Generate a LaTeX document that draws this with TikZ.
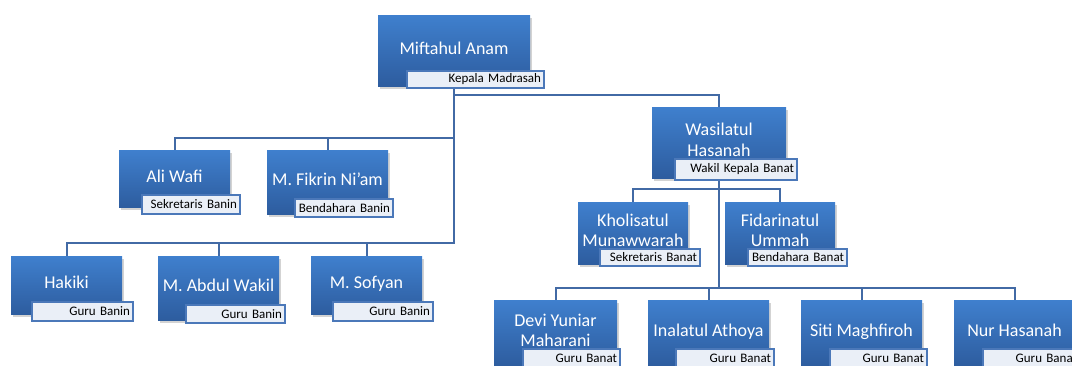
\documentclass[tikz,border=0pt]{standalone}
\usepackage{fontspec}
\setmainfont{Carlito}
\usepackage{xcolor}
\usepackage{tikz}
\usetikzlibrary{shadows,backgrounds}

\definecolor{boxtop}{RGB}{63,127,205}
\definecolor{boxbot}{RGB}{45,92,158}
\definecolor{rolefill}{RGB}{234,239,247}
\definecolor{roleline}{RGB}{75,120,185}
\definecolor{linkblue}{RGB}{66,106,165}

\begin{document}
\begin{tikzpicture}[
    x=1pt, y=-1pt,
    person/.style={rectangle, top color=boxtop, bottom color=boxbot, text=white, font=\fontsize{18}{20.5}\selectfont, align=center, inner xsep=2pt, text depth=7pt, drop shadow={opacity=0.35, shadow xshift=1.5pt, shadow yshift=-2.5pt}},
    role/.style={rectangle, fill=rolefill, draw=roleline, line width=1.5pt, font=\fontsize{13}{15}\selectfont, align=right, inner xsep=3pt, inner ysep=0pt, text width=#1},
    link/.style={draw=linkblue, line width=2pt}
]
\useasboundingbox (0,0) rectangle (1072,366);

% Kepala Madrasah
\node[person, minimum width=152, minimum height=71] (kepala) at (454,51.5) {Miftahul Anam};
\node[role=131pt, minimum height=17] (kepala_role) at (475.5,79.5) {Kepala Madrasah};

% Wakil Kepala Banat
\node[person, minimum width=134, minimum height=71] (wakil) at (719,143.5) {Wasilatul\\Hasanah};
\node[role=116pt, minimum height=21] (wakil_role) at (736,169.5) {Wakil Kepala Banat};

% Banin staff
\node[person, minimum width=111, minimum height=57] (sekr_banin) at (174.5,179.5) {Ali Wafi};
\node[role=92pt, minimum height=19] (sekr_banin_role) at (191,204.5) {Sekretaris Banin};
\node[person, minimum width=121, minimum height=64] (bend_banin) at (327.5,183) {M. Fikrin Ni'am};
\node[role=92pt, minimum height=18] (bend_banin_role) at (344,208) {Bendahara Banin};

% Banat staff
\node[person, minimum width=110, minimum height=62] (sekr_banat) at (633,234) {Kholisatul\\Munawwarah};
\node[role=94pt, minimum height=17] (sekr_banat_role) at (650,257.5) {Sekretaris Banat};
\node[person, minimum width=110, minimum height=62] (bend_banat) at (780,234) {Fidarinatul\\Ummah};
\node[role=93pt, minimum height=17] (bend_banat_role) at (797.5,257.5) {Bendahara Banat};

% Guru Banin
\node[person, minimum width=111, minimum height=58] (guru_banin_a) at (66.5,286) {Hakiki};
\node[role=95pt, minimum height=19] (guru_banin_a_role) at (82.5,311.5) {Guru Banin};
\node[person, minimum width=121, minimum height=64] (guru_banin_b) at (218.5,289) {M. Abdul Wakil};
\node[role=93pt, minimum height=18] (guru_banin_b_role) at (235.5,314) {Guru Banin};
\node[person, minimum width=111, minimum height=58] (guru_banin_c) at (366.5,286) {M. Sofyan};
\node[role=94pt, minimum height=19] (guru_banin_c_role) at (383,311.5) {Guru Banin};

% Guru Banat
\node[person, minimum width=123, minimum height=66] (guru_banat_a) at (555.5,334) {Devi Yuniar\\Maharani};
\node[role=91pt, minimum height=19] (guru_banat_a_role) at (571.5,358.5) {Guru Banat};
\node[person, minimum width=121, minimum height=66] (guru_banat_b) at (708.5,334) {Inalatul Athoya};
\node[role=92pt, minimum height=19] (guru_banat_b_role) at (725,358.5) {Guru Banat};
\node[person, minimum width=121, minimum height=66] (guru_banat_c) at (861.5,334) {Siti Maghfiroh};
\node[role=91pt, minimum height=19] (guru_banat_c_role) at (878.5,358.5) {Guru Banat};
\node[person, minimum width=121, minimum height=66] (guru_banat_d) at (1014.5,334) {Nur Hasanah};
\node[role=91pt, minimum height=19] (guru_banat_d_role) at (1031.5,358.5) {Guru Banat};

% Connectors
\begin{scope}[on background layer]
\draw[link] (kepala.south) -- ++(0,8) -| (wakil.north);
\draw[link] (kepala.south) -- ++(0,51) -| (sekr_banin.north);
\draw[link] (kepala.south) -- ++(0,51) -| (bend_banin.north);
\draw[link] (kepala.south) -- ++(0,156) -| (guru_banin_a.north);
\draw[link] (kepala.south) -- ++(0,156) -| (guru_banin_b.north);
\draw[link] (kepala.south) -- ++(0,156) -| (guru_banin_c.north);
\draw[link] (wakil.south) -- ++(0,10) -| (sekr_banat.north);
\draw[link] (wakil.south) -- ++(0,10) -| (bend_banat.north);
\draw[link] (wakil.south) -- ++(0,109) -| (guru_banat_a.north);
\draw[link] (wakil.south) -- ++(0,109) -| (guru_banat_b.north);
\draw[link] (wakil.south) -- ++(0,109) -| (guru_banat_c.north);
\draw[link] (wakil.south) -- ++(0,109) -| (guru_banat_d.north);
\end{scope}

\end{tikzpicture}
\end{document}
